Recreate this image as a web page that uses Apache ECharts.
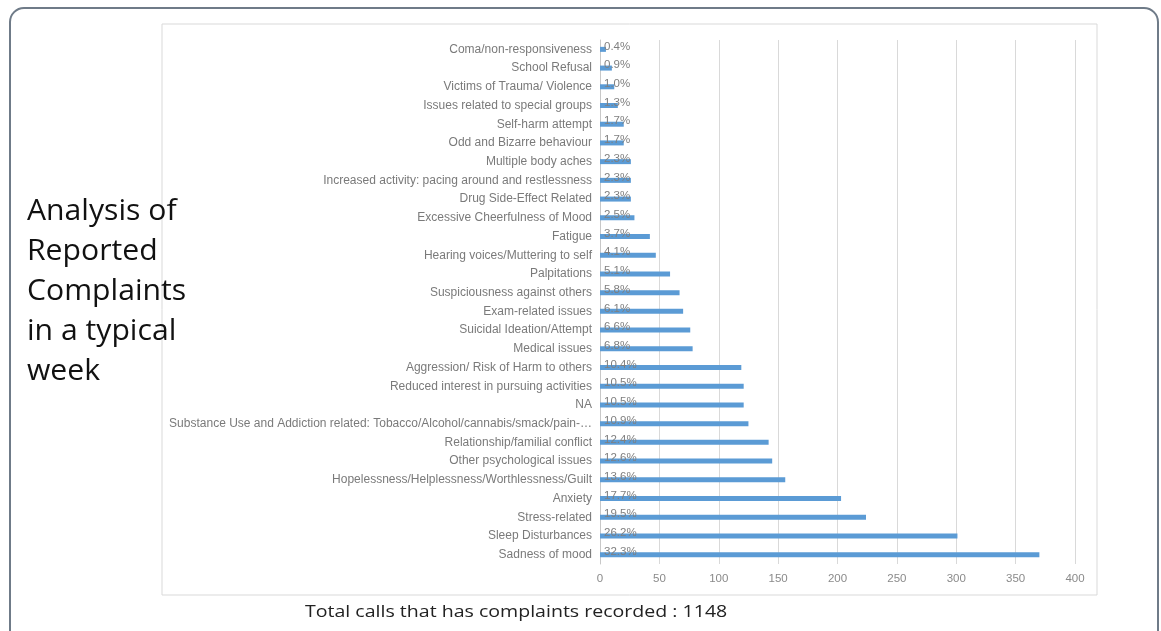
<!DOCTYPE html>
<html>
<head>
<meta charset="utf-8">
<script src="https://cdn.jsdelivr.net/npm/echarts@6/dist/echarts.min.js"></script>
<style>
html,body{margin:0;padding:0;background:#fff;}
#chart{width:1161px;height:631px;}
</style>
</head>
<body>
<div id="chart"></div>
<script>
const categories = [
  "Coma/non-responsiveness",
  "School Refusal",
  "Victims of Trauma/ Violence",
  "Issues related to special groups",
  "Self-harm attempt",
  "Odd and Bizarre behaviour",
  "Multiple body aches",
  "Increased activity: pacing around and restlessness",
  "Drug Side-Effect Related",
  "Excessive Cheerfulness of Mood",
  "Fatigue",
  "Hearing voices/Muttering to self",
  "Palpitations",
  "Suspiciousness against others",
  "Exam-related issues",
  "Suicidal Ideation/Attempt",
  "Medical issues",
  "Aggression/ Risk of Harm to others",
  "Reduced interest in pursuing activities",
  "NA",
  "Substance Use and Addiction related: Tobacco/Alcohol/cannabis/smack/pain-…",
  "Relationship/familial conflict",
  "Other psychological issues",
  "Hopelessness/Helplessness/Worthlessness/Guilt",
  "Anxiety",
  "Stress-related",
  "Sleep Disturbances",
  "Sadness of mood"
];
const counts = [5, 10, 12, 15, 20, 20, 26, 26, 26, 29, 42, 47, 59, 67, 70, 76, 78, 119, 121, 121, 125, 142, 145, 156, 203, 224, 301, 370];
const percentLabels = ["0.4%", "0.9%", "1.0%", "1.3%", "1.7%", "1.7%", "2.3%", "2.3%", "2.3%", "2.5%", "3.7%", "4.1%", "5.1%", "5.8%", "6.1%", "6.6%", "6.8%", "10.4%", "10.5%", "10.5%", "10.9%", "12.4%", "12.6%", "13.6%", "17.7%", "19.5%", "26.2%", "32.3%"];
const xTicks = [0, 50, 100, 150, 200, 250, 300, 350, 400];
const titleLines = ["Analysis of", "Reported", "Complaints", "in a typical", "week"];
const footnote = "Total calls that has complaints recorded : 1148";

const chart = echarts.init(document.getElementById('chart'));
const option = {
  backgroundColor: '#ffffff',
  animation: false,
  grid: { left: 600, right: 86, top: 40, bottom: 67, containLabel: false },
  xAxis: {
    type: 'value',
    min: xTicks[0],
    max: xTicks[xTicks.length - 1],
    interval: xTicks[1] - xTicks[0],
    axisLine: { show: false },
    axisTick: { show: false },
    axisLabel: { color: '#8a8a8a', fontSize: 11.5, fontFamily: 'Liberation Sans', margin: 9 },
    splitLine: { show: true, lineStyle: { color: '#d9d9d9', width: 1 } }
  },
  yAxis: {
    type: 'category',
    inverse: true,
    data: categories,
    axisLine: { show: true, lineStyle: { color: '#c8c8c8' } },
    axisTick: { show: false },
    axisLabel: {
      color: '#7a7a7a', fontSize: 12, fontFamily: 'Liberation Sans', margin: 8,
      padding: [0, 0, 6, 0]
    }
  },
  series: [{
    type: 'bar',
    data: counts,
    barWidth: 5,
    itemStyle: { color: '#5b9bd5' },
    label: {
      show: true,
      position: 'insideLeft',
      offset: [0, -3],
      distance: 4,
      color: '#7f7f7f',
      fontSize: 11.5,
      fontFamily: 'Liberation Sans',
      formatter: p => percentLabels[p.dataIndex]
    }
  }],
  graphic: [
    {
      type: 'rect', silent: true, z: -10,
      shape: { x: 10, y: 8, width: 1148, height: 640, r: 14 },
      style: { fill: 'none', stroke: '#6f7b88', lineWidth: 2 }
    },
    {
      type: 'rect', silent: true, z: -9,
      shape: { x: 162, y: 24, width: 935, height: 571 },
      style: { fill: 'none', stroke: '#d9d9d9', lineWidth: 1 }
    },
    ...titleLines.map((t, i) => ({
      type: 'text', silent: true,
      x: 27, y: 212 + i * 40, scaleX: 1.04,
      style: { text: t, x: 0, y: 0, align: 'left', verticalAlign: 'middle',
               fill: '#111111', fontSize: 29, fontFamily: 'Open Sans' }
    })),
    {
      type: 'text', silent: true,
      x: 305, y: 612, scaleX: 1.15,
      style: { text: footnote, x: 0, y: 0, align: 'left', verticalAlign: 'middle',
               fill: '#222222', fontSize: 17, fontFamily: 'Open Sans' }
    }
  ]
};
chart.setOption(option);
</script>
</body>
</html>
